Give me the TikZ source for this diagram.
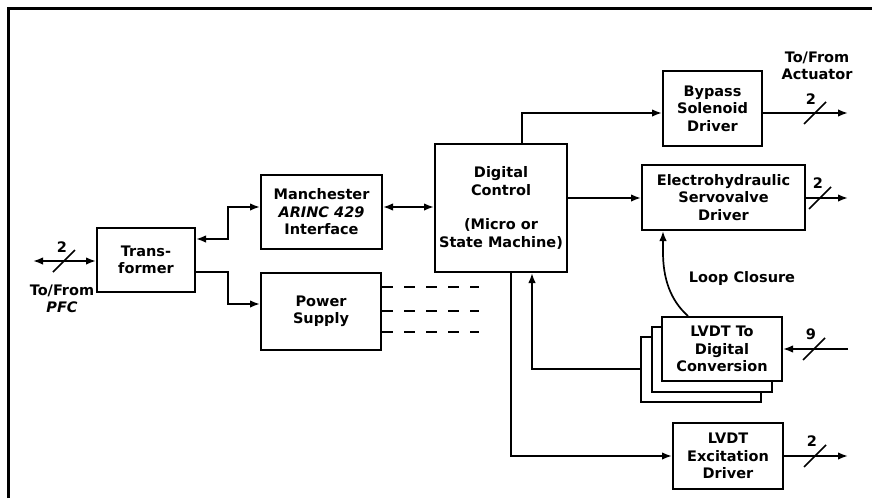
\documentclass[tikz,border=0pt]{standalone}
\usepackage{fontspec}
\setmainfont{DejaVu Sans}
\usetikzlibrary{arrows.meta}
\tikzset{
  blk/.style={draw, line width=2pt, fill=white, inner sep=0pt, align=center,
    font=\fontsize{14.5}{17.5}\selectfont\bfseries},
  lbl/.style={inner sep=0pt, align=center, font=\fontsize{14.5}{17.5}\selectfont\bfseries},
  conn/.style={line width=1.7pt},
  tip/.style={-{Latex[length=10pt,width=7.5pt]}},
  bitip/.style={{Latex[length=10pt,width=7.5pt]}-{Latex[length=10pt,width=7.5pt]}},
  slashmark/.style={line width=1.7pt},
  dashline/.style={line width=1.7pt, dash pattern=on 11pt off 11pt}
}
\begin{document}
\begin{tikzpicture}[x=1pt,y=-1pt]
\useasboundingbox (0,0) rectangle (872,498);
% frame
\draw[line width=3pt] (8,498) -- (8,8) -- (872,8);

% blocks
\node[blk, minimum width=98pt, minimum height=64pt] (trans) at (146,260) {Trans-\\former};
\node[blk, minimum width=121pt, minimum height=74pt] (manch) at (321.5,212) {Manchester\\\textit{ARINC 429}\\Interface};
\node[blk, minimum width=120pt, minimum height=77pt] (power) at (321,311.5) {Power\\Supply};
\node[blk, minimum width=132pt, minimum height=128pt] (digital) at (501,208) {Digital\\Control\\[17pt](Micro or\\State Machine)};
\node[blk, minimum width=99pt, minimum height=75pt] (bypass) at (712.5,108.5) {Bypass\\Solenoid\\Driver};
\node[blk, minimum width=163pt, minimum height=65pt] (electro) at (723.5,197.5) {Electrohydraulic\\Servovalve\\Driver};
\node[blk, minimum width=120pt, minimum height=65pt] (lvdtc) at (700.5,369.5) {};
\node[blk, minimum width=120pt, minimum height=65pt] (lvdtb) at (711.5,359.5) {};
\node[blk, minimum width=120pt, minimum height=64pt] (lvdt) at (722,349) {LVDT To\\Digital\\Conversion};
\node[blk, minimum width=110pt, minimum height=66pt] (excit) at (728,456) {LVDT\\Excitation\\Driver};

% labels
\node[lbl] (pfclbl) at (62,299) {To/From\\\textit{PFC}};
\node[lbl] (pfcn) at (62,247) {2};
\node[lbl] (actlbl) at (817,66) {To/From\\Actuator};
\node[lbl] (byn) at (811,99) {2};
\node[lbl] (eln) at (818,183) {2};
\node[lbl] (lvn) at (811,334) {9};
\node[lbl] (exn) at (812,441) {2};
\node[lbl] (loop) at (742,278) {Loop Closure};

% free ends
\coordinate (pfcend) at (33,261);
\coordinate (byend) at (848,113);
\coordinate (elend) at (848,198);
\coordinate (lvend) at (848,349);
\coordinate (exend) at (848,456);

% connectors
\draw[conn,bitip] (pfcend) -- (trans.west |- pfcend);
\draw[conn,bitip] (trans.east |- 0,239) -- (228,239) -- (228,207) -- (manch.west |- 0,207);
\draw[conn,tip] (trans.east |- 0,272) -- (228,272) -- (228,304) -- (power.west |- 0,304);
\draw[conn,bitip] (manch.east |- 0,207) -- (digital.west |- 0,207);
\draw[conn,tip] (digital.north -| 522,0) |- (bypass.west |- 0,113);
\draw[conn,tip] (bypass.east |- byend) -- (byend);
\draw[conn,tip] (digital.east |- 0,198) -- (electro.west |- 0,198);
\draw[conn,tip] (electro.east |- elend) -- (elend);
\draw[conn,tip] (lvdt.north -| 688,0) .. controls (670,300) and (663,278) .. (663,252) -- (electro.south -| 663,0);
\draw[conn,tip] (lvend) -- (lvdt.east |- lvend);
\draw[conn,tip] (lvdtc.west |- 0,369) -| (digital.south -| 532,0);
\draw[conn,tip] (digital.south -| 511,0) |- (excit.west |- 0,456);
\draw[conn,tip] (excit.east |- exend) -- (exend);

% dashed supply lines
\draw[dashline] (power.east |- 0,287) -- (479,287);
\draw[dashline] (power.east |- 0,311) -- (479,311);
\draw[dashline] (power.east |- 0,332) -- (479,332);

% bus slashes
\draw[slashmark] (53,272) -- (75,250);
\draw[slashmark] (804,124) -- (826,102);
\draw[slashmark] (809,209) -- (831,187);
\draw[slashmark] (803,360) -- (825,338);
\draw[slashmark] (804,467) -- (826,445);
\end{tikzpicture}
\end{document}
